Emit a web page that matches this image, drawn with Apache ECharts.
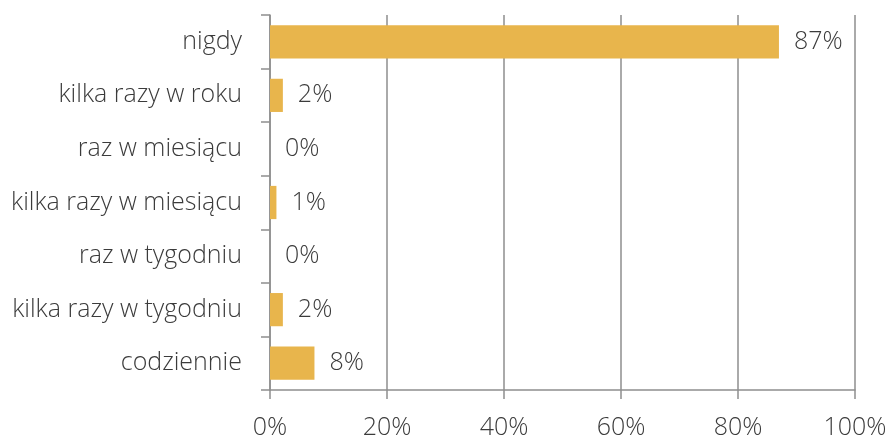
<!DOCTYPE html>
<html>
<head>
<meta charset="utf-8">
<script src="https://cdn.jsdelivr.net/npm/echarts@6/dist/echarts.min.js"></script>
<style>
  html, body { margin: 0; padding: 0; background: #fff; }
  #chart { width: 886px; height: 439px; }
</style>
</head>
<body>
<div id="chart"></div>
<script>
const categories = [
  'nigdy',
  'kilka razy w roku',
  'raz w miesiącu',
  'kilka razy w miesiącu',
  'raz w tygodniu',
  'kilka razy w tygodniu',
  'codziennie'
]
const shares = [87.0, 2.2, 0, 1.1, 0, 2.2, 7.6]
const xTicks = [0, 20, 40, 60, 80, 100]

const font = '"Open Sans", "Segoe UI", sans-serif'
const textColor = '#3b3b3b'
const lineColor = '#8e8e8e'

const chart = echarts.init(document.getElementById('chart'))
chart.setOption({
  backgroundColor: '#fff',
  animation: false,
  grid: { left: 270, right: 31, top: 15, bottom: 49, containLabel: false, outerBoundsMode: 'none' },
  xAxis: {
    type: 'value',
    min: xTicks[0],
    max: xTicks[xTicks.length - 1],
    interval: 20,
    axisLine: { show: true, lineStyle: { color: lineColor, width: 1.5 } },
    axisTick: { show: true, length: 9, lineStyle: { color: lineColor, width: 1.5 } },
    splitLine: { show: true, lineStyle: { color: lineColor, width: 1.5 } },
    axisLabel: {
      margin: 25,
      color: textColor,
      fontFamily: font,
      fontWeight: 300,
      fontSize: 25,
      formatter: (v) => v + '%'
    }
  },
  yAxis: {
    type: 'category',
    inverse: true,
    data: categories,
    axisLine: { show: true, lineStyle: { color: lineColor, width: 1.5 } },
    axisTick: { show: true, length: 9, lineStyle: { color: lineColor, width: 1.5 } },
    axisLabel: {
      margin: 28,
      color: textColor,
      fontFamily: font,
      fontWeight: 300,
      fontSize: 25
    }
  },
  series: [{
    type: 'bar',
    data: shares,
    barCategoryGap: '38%',
    itemStyle: { color: '#e8b54c' },
    label: {
      show: true,
      position: 'right',
      distance: 15,
      color: textColor,
      fontFamily: font,
      fontWeight: 300,
      fontSize: 25,
      formatter: (p) => Math.round(p.value) + '%'
    }
  }]
})
</script>
</body>
</html>
